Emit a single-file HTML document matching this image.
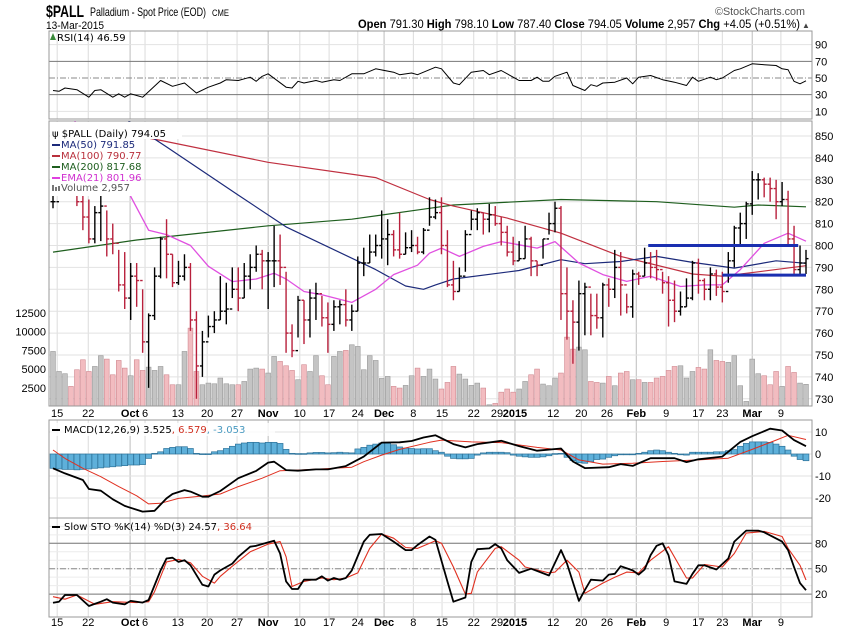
<!DOCTYPE html>
<html><head><meta charset="utf-8">
<style>
html,body{margin:0;padding:0;background:#fff;}
svg{display:block;font-family:"Liberation Sans",Arial,sans-serif;}
.ax{font-size:11px;fill:#000;}
.lg{font-family:"DejaVu Sans",sans-serif;font-size:10px;}
</style></head>
<body>
<svg id="chart" width="850" height="633" viewBox="0 0 850 633" xmlns="http://www.w3.org/2000/svg">
<rect x="0" y="0" width="850" height="633" fill="#fff"/>
<g>
<text x="46" y="17" font-size="17" font-weight="bold" textLength="38" lengthAdjust="spacingAndGlyphs">$PALL</text>
<text x="90" y="16" font-size="12" textLength="116" lengthAdjust="spacingAndGlyphs">Palladium - Spot Price (EOD)</text>
<text x="212" y="16" font-size="9" textLength="17" lengthAdjust="spacingAndGlyphs">CME</text>
<text x="46" y="29" font-size="11" textLength="58" lengthAdjust="spacingAndGlyphs">13-Mar-2015</text>
<text x="715" y="15" font-size="11" fill="#555" textLength="90" lengthAdjust="spacingAndGlyphs">©StockCharts.com</text>
<text x="358" y="28" font-size="11.5" textLength="442" lengthAdjust="spacingAndGlyphs"><tspan font-weight="bold">Open</tspan> 791.30  <tspan font-weight="bold">High</tspan> 798.10  <tspan font-weight="bold">Low</tspan> 787.40  <tspan font-weight="bold">Close</tspan> 794.05  <tspan font-weight="bold">Volume</tspan> 2,957  <tspan font-weight="bold">Chg</tspan> +4.05 (+0.51%)</text>
<text x="802" y="28" font-size="8" fill="#444">▲</text>
</g>
<defs>
<clipPath id="clipMain"><rect x="49" y="121" width="763" height="285"/></clipPath>
<clipPath id="clipMacd"><rect x="49" y="420" width="763" height="98"/></clipPath>
</defs>
<g id="grid"></g>
<g id="plots"></g>
<g id="frames">
<rect x="49" y="31" width="763" height="88" fill="none" stroke="#999"/>
<rect x="49" y="121" width="763" height="285" fill="none" stroke="#999"/>
<rect x="49" y="420" width="763" height="98" fill="none" stroke="#999"/>
<rect x="49" y="518" width="763" height="99" fill="none" stroke="#999"/>
</g>
<g id="legends">
<path d="M50 40 L53 33 L56 40 Z" fill="#3a8a3a"/>
<text class="lg" x="57" y="41">RSI(14) 46.59</text>
<rect x="50" y="122" width="132" height="17" fill="#fff"/>
<rect x="50" y="139" width="84" height="57" fill="#fff"/>
<text class="lg" x="52" y="137">ψ $PALL (Daily) 794.05</text>
<line x1="52" y1="145" x2="60" y2="145" stroke="#1c2a7a" stroke-width="2"/>
<text class="lg" x="61" y="148" fill="#1c2a7a">MA(50) 791.85</text>
<line x1="52" y1="156" x2="60" y2="156" stroke="#b8303c" stroke-width="2"/>
<text class="lg" x="61" y="159" fill="#b8303c">MA(100) 790.77</text>
<line x1="52" y1="167" x2="60" y2="167" stroke="#1e5e1e" stroke-width="2"/>
<text class="lg" x="61" y="170" fill="#1e5e1e">MA(200) 817.68</text>
<line x1="52" y1="178" x2="60" y2="178" stroke="#e040e0" stroke-width="2"/>
<text class="lg" x="61" y="181" fill="#d030d0">EMA(21) 801.96</text>
<rect x="52" y="185" width="2" height="6" fill="#777"/><rect x="55" y="187" width="2" height="4" fill="#777"/><rect x="58" y="186" width="2" height="5" fill="#777"/>
<text class="lg" x="61" y="191" fill="#555">Volume 2,957</text>
<rect x="50" y="423" width="225" height="13" fill="#fff" opacity="0.8"/>
<line x1="52" y1="430" x2="60" y2="430" stroke="#000" stroke-width="2"/>
<text class="lg" x="64" y="433">MACD(12,26,9) 3.525<tspan fill="#d03020">, 6.579</tspan><tspan fill="#4a9ac0">, -3.053</tspan></text>
<line x1="52" y1="527" x2="60" y2="527" stroke="#000" stroke-width="2"/>
<text class="lg" x="64" y="530">Slow STO %K(14) %D(3) 24.57<tspan fill="#d03020">, 36.64</tspan></text>
</g>
<g id="axes"></g>
</svg>
<script>
// ---------- data ----------
const highs = [823,828,829,827,825,824,821,818,823,816,810,798,797,792,792,780,769,790,804,812,796,793,796,792,770,761,768,770,786,783,790,790,792,796,800,798,797,809,805,788,764,777,775,780,783,777,774,775,775,780,773,795,799,805,805,816,812,807,815,806,807,804,808,822,821,822,807,793,790,807,816,817,815,819,818,813,809,804,802,809,804,793,803,815,820,818,790,775,784,783,778,778,783,785,798,797,778,789,788,799,797,798,788,786,784,779,785,793,794,785,790,789,788,797,809,815,820,834,833,831,831,830,829,825,809,800,798];
const lows = [817,823,824,823,818,807,801,801,802,795,796,779,771,766,772,751,735,766,785,785,781,782,784,761,730,740,758,760,766,764,776,770,776,780,788,780,771,781,782,751,749,758,755,758,766,763,751,761,764,763,761,770,786,792,795,794,791,795,794,796,797,796,796,809,812,796,781,775,779,788,807,807,805,806,809,800,795,791,793,794,786,786,794,805,806,766,757,746,752,759,759,762,758,772,776,768,769,767,782,786,785,784,778,763,765,768,772,775,778,775,775,777,774,783,790,800,803,814,821,822,820,812,818,800,787,787,787];
const closes = [820,825,826,825,820,813,803,815,818,803,801,782,776,786,784,756,768,786,803,796,783,786,790,766,745,756,763,766,770,771,780,776,786,790,796,793,793,793,790,760,752,775,766,776,778,767,764,772,773,766,770,792,792,797,800,803,805,798,796,799,800,797,807,813,815,800,782,779,786,805,812,815,812,814,810,806,797,793,794,803,793,791,803,810,817,778,770,765,778,781,768,767,782,780,790,782,772,787,786,792,790,789,783,775,770,772,776,792,784,780,787,781,779,793,808,810,819,830,830,828,826,820,821,803,789,792,794];
const volumes = [7340,4670,4370,2680,4900,6230,4670,5340,6770,6320,4230,6140,5120,4100,6230,4810,5250,4810,5340,4230,2900,2900,7340,10450,4670,2900,3120,3030,3790,3030,2900,2900,3340,4990,5120,4990,4460,6680,6010,5430,4810,3570,5570,4670,6770,4100,2900,6680,7340,7480,8230,8010,4900,6770,6140,3740,4010,2680,2460,2810,4100,5120,4010,4990,3660,2330,3210,5340,4320,3660,2810,3120,2460,230,410,1910,2330,1910,2330,3340,4230,4990,2990,2770,3790,4460,9250,7650,7920,7560,3340,3210,3120,4010,2770,4460,4670,3570,3570,3210,3210,3790,4010,4810,5340,5430,3790,4670,5210,4990,7560,6140,6010,5880,6770,2770,680,6320,4370,4100,2900,4670,2680,5340,4540,3120,2957];
const ma50Idx = [0,10,14,19,25,31,39,54,59,62,64,67,78,85,89,95,101,107,114,121,126];
const ma50Val = [880,862,854,845,834,823,808.5,789,781.5,780,782,784.7,788.6,793.5,791.7,792.7,795,792.3,789.7,793,791.85];
const ma100Idx = [0,14,18,36,54,63,67,76,85,95,107,112,118,126];
const ma100Val = [856,850,848,838,831,821,818,812.5,805.6,795,787,786,788,790.77];
const ma200Idx = [0,14,36,50,63,67,85,101,114,118,126];
const ma200Val = [797,802.5,809,812,817,818.5,821,820,817.5,818.5,817.68];
const emaIdx = [3,5,8,12,16,19,23,26,30,34,37,39,42,45,50,54,57,61,63,65,68,72,75,78,81,84,88,92,96,100,105,109,112,115,119,123,126];
const emaVal = [860,850,840,827.6,807,805,800,790.5,783.5,784.7,787.3,784.7,779,777.5,774,780,786.7,791,796.5,798.8,795,799.6,801.8,800.3,798.8,801.8,792,786.7,783.6,786,781.3,782,782,789,801,805.6,801.96];
const resistanceLevel = [800];
const resistanceSpan = [99.6,124.7];
const supportLevel = [786.5];
const supportSpan = [112,126];
const rsiIdx = [0,1,2,4,6,7,8,10,11,12,13,14,15,18,20,22,24,26,28,29,31,33,34,35,36,39,40,41,42,44,45,47,48,50,52,54,57,58,60,61,63,64,65,67,68,70,72,73,75,77,78,80,81,82,83,84,86,87,89,90,91,92,94,96,97,98,100,102,104,106,107,108,110,111,112,114,115,117,119,121,122,123,124,125,126];
const rsiVal = [35,34,38,36,27,35,36,27,31,27,31,29,27,47,40,44,32,39,44,48,47,51,46,52,55,39,38,46,44,47,45,48,47,55,55,61,57,54,56,54,60,63,61,44,42,57,59,54,59,51,47,47,51,46,46,52,57,41,35,42,40,44,45,50,43,51,53,48,45,41,51,46,51,48,50,59,61,67,66,65,61,60,46,43,46.59];
const macdIdx = [0,2,5,6,8,10,12,15,17,19,20,22,23,25,26,28,31,34,36,37,39,41,44,46,49,52,55,58,60,62,64,67,69,71,75,78,81,85,87,89,93,95,97,100,104,106,108,112,115,117,120,122,124,126];
const macdVal = [-6.5,-8.8,-11.8,-15.9,-16.7,-20.6,-23.6,-26.2,-25.8,-20.2,-18.2,-16.4,-17.1,-19.4,-19.4,-16.8,-11,-7.7,-3.9,-3.5,-7.3,-7.6,-7,-7,-5.5,-1.2,5.2,5.3,5.9,7.5,8.5,4.5,3,4.5,6,3.6,1.5,2.5,-3.4,-6.4,-6,-4.6,-5.4,-1.9,-1.9,-3.7,-2.4,-1.2,5.5,8.1,11.5,10.7,6.3,3.525];
const signalIdx = [0,2,5,8,11,14,16,18,21,25,28,31,35,38,41,47,50,52,55,58,63,65,70,75,81,85,88,92,97,102,108,113,117,121,123,126];
const signalVal = [1.8,-2,-6.5,-10.3,-14.8,-19,-22.7,-22.4,-20.2,-19.1,-18.2,-14.8,-11,-7.6,-7.3,-6.5,-6,-3.5,-0.5,2.1,5.3,6.3,5.5,5.2,3,1.8,-2.7,-4.6,-4.2,-3.4,-2.7,-1.9,2.1,6.3,8.5,6.579];
const histVal = [-6.5,-6.8,-7,-7,-7.2,-7,-6.8,-6.5,-6.3,-6,-5.8,-5.5,-5.3,-5,-5,-4.8,-2,0.3,1,2.5,3,3.3,3.3,2.5,0.3,0.1,0.1,1,1.5,2.5,3.5,4.5,5,5.3,5.3,5,5.3,5.3,4.8,2.1,0.3,0.2,0.2,0.5,0.7,0.7,0.5,0.6,0.8,0.6,0.5,2.3,3,4,4.5,5,5,4.2,3.2,2.7,2.5,2.3,2.4,2.4,1.5,0.8,-1,-2,-2.2,-2.2,-2,-0.5,0.5,0.8,0.8,0.8,0.6,-0.5,-1,-1.3,-1.5,-1.5,-1.3,-0.8,0.2,0.3,-1.5,-3,-4,-4.2,-3.5,-2.5,-2.3,-1.5,-0.8,-0.3,-0.2,0,0.3,0.8,1.5,1.8,1.5,0.8,0.3,-0.3,-0.5,0.8,0.8,0.8,0.8,1,1,1.5,2,3.5,4.8,5.5,5.5,5.5,5.3,4.5,3.5,1.8,-1,-2.5,-3.053];
const stoKIdx = [0,1,2,4,6,8,9,10,12,13,15,16,18,19,20,21,22,23,25,26,27,28,30,31,33,34,36,37,38,39,40,41,42,44,45,46,47,48,49,50,52,53,55,57,59,60,61,63,64,66,67,69,70,71,73,74,75,76,78,80,83,85,86,88,89,90,92,93,94,95,97,98,99,100,101,102,103,104,106,107,108,109,111,113,114,116,118,119,122,123,124,125,126];
const stoKVal = [9.7,11,19,19,6,11,14,10,8,12,10,13,48,62,63,58,60,54,31,29,43,48,56,64,76,77,81,83,68,35,26,26,37,37,41,36,39,37,39,48,82,90,91,82,72,72,78,88,84,35,11,16,58,73,74,79,74,60,45,50,42,72,56,12,25,37,36,43,44,53,48,43,49,66,77,80,66,35,32,44,54,54,49,62,82,95,95,93,82,72,52,33,24.57];
const stoDIdx = [0,2,4,7,10,14,16,17,19,21,23,25,27,28,30,33,36,38,39,40,42,45,47,49,51,53,55,57,59,61,64,65,67,69,70,71,74,75,78,79,83,84,86,88,89,92,94,96,98,100,103,106,107,109,112,114,116,119,122,123,125,126];
const stoDVal = [17,14,19,8,11,10,11,23,58,61,57,41,33,41,53,70,79,82,64,29,35,39,37,39,45,74,91,86,75,74,83,80,52,20,21,46,74,76,60,52,45,46,60,46,21,33,40,46,45,60,76,39,39,55,52,68,92,94,88,74,54,36.64];
const priceTicks = [850,840,830,820,810,800,790,780,770,760,750,740,730];
const volTicks = [12500,10000,7500,5000,2500];
const rsiTicks = [90,70,50,30,10];
const macdTicks = [10,0,-10,-20];
const stoTicks = [80,50,20];
const dateLabels = ['15','22','Oct','6','13','20','27','Nov','10','17','24','Dec','8','15','22','29','2015','12','20','26','Feb','9','17','23','Mar','9'];
const dateIdx = [0.7,5.9,12.9,15.4,20.9,25.8,30.8,36,41.3,46.2,51,55.4,60.3,65.1,70.4,74.3,77.3,83.7,88.4,92.7,97.6,102.6,108,112,117,121.8];
const dateBold = [0,0,1,0,0,0,0,1,0,0,0,1,0,0,0,0,1,0,0,0,1,0,0,0,1,0];

// ---------- scales ----------
const X0 = 53, STEP = (806 - 53) / 126;
function xOf(i){ return X0 + i * STEP; }
function yPrice(p){ return 136 + (850 - p) * 2.19; }
function yVol(v){ return 406.5 - v * 18.75 / 2500; }
function yRsi(v){ return 78 - (v - 50) * 0.833; }
function yMacd(v){ return 454 - v * 2.2; }
function ySto(v){ return 568.7 - (v - 50) * 0.847; }

const NS = 'http://www.w3.org/2000/svg';
function mk(tag, attrs, parent){
  const e = document.createElementNS(NS, tag);
  for (const k in attrs) e.setAttribute(k, attrs[k]);
  parent.appendChild(e);
  return e;
}
const grid = document.getElementById('grid');
const plots = document.getElementById('plots');
const axes = document.getElementById('axes');

// ---------- grid ----------
const panels = [[31,119],[121,406],[420,518],[518,617]];
for (let k = 0; k < dateIdx.length; k++) {
  const x = xOf(dateIdx[k]);
  for (const p of panels) {
    const gl = mk('line', {x1:x, x2:x, y1:p[0], y2:p[1], stroke: dateBold[k] ? '#bdbdbd' : '#dcdcdc', 'stroke-width':1}, grid);
    
    
  }
  for (const yy of [417, 626]) {
    const t = mk('text', {x:x, y:yy, 'text-anchor':'middle', class:'ax', 'font-weight': dateBold[k] ? 'bold' : 'normal'}, axes);
    t.textContent = dateLabels[k];
    
    
  }
}
for (const p of priceTicks) {
  const y = yPrice(p);
  const gl = mk('line', {x1:49, x2:812, y1:y, y2:y, stroke:'#e2e2e2'}, grid);
  
  
  const t = mk('text', {x:815, y:y+4, class:'ax'}, axes);
  t.textContent = p;
  
  
}
for (const v of volTicks) {
  const t = mk('text', {x:46, y:yVol(v)+4, class:'ax', 'text-anchor':'end'}, axes);
  t.textContent = v;
  
  
}
for (const v of rsiTicks) {
  const y = yRsi(v);
  const strong = (v === 70 || v === 30);
  const gl = mk('line', {x1:49, x2:812, y1:y, y2:y, stroke: strong ? '#777' : (v === 50 ? '#888' : '#e2e2e2'), 'stroke-dasharray': v === 50 ? '6,2,1,2' : 'none'}, grid);
  
  
  const t = mk('text', {x:815, y:y+4, class:'ax'}, axes);
  t.textContent = v;
  
  
}
for (const v of macdTicks) {
  const y = yMacd(v);
  const gl = mk('line', {x1:49, x2:812, y1:y, y2:y, stroke:'#e2e2e2'}, grid);
  
  
  const t = mk('text', {x:815, y:y+4, class:'ax'}, axes);
  t.textContent = v;
  
  
}
for (let v = 10; v <= 100; v += 10) {
  const y = ySto(v);
  const gl = mk('line', {x1:49, x2:812, y1:y, y2:y, stroke:'#ececec'}, grid);
  
  
}
for (const v of stoTicks) {
  const y = ySto(v);
  const gl = mk('line', {x1:49, x2:812, y1:y, y2:y, stroke: v === 50 ? '#888' : '#777', 'stroke-dasharray': v === 50 ? '6,2,1,2' : 'none'}, grid);
  
  
  const t = mk('text', {x:815, y:y+4, class:'ax'}, axes);
  t.textContent = v;
  
  
}

// ---------- helpers ----------
function polyline(idx, vals, yf, color, width, name, parent){
  const pts = idx.map((i, k) => xOf(i).toFixed(1) + ',' + yf(vals[k]).toFixed(1)).join(' ');
  const pl = mk('polyline', {points: pts, fill:'none', stroke:color, 'stroke-width':width, 'stroke-linejoin':'round'}, parent);
  
  
  return pl;
}

// ---------- main price panel ----------
const mainG = mk('g', {'clip-path':'url(#clipMain)'}, plots);


for (let i = 0; i < volumes.length; i++) {
  const down = i > 0 && closes[i] < closes[i-1];
  const y = yVol(volumes[i]);
  const vb = mk('rect', {x: xOf(i) - 2.4, y: y, width: 4.8, height: Math.max(0, 406.5 - y), fill: down ? '#f2bcc0' : '#c4c4c4', stroke: down ? '#d08890' : '#999', 'stroke-width':0.6}, mainG);
  
  
}
polyline(ma200Idx, ma200Val, yPrice, '#1e5e1e', 1.2, 'ma200-line', mainG);
polyline(ma100Idx, ma100Val, yPrice, '#c03040', 1.2, 'ma100-line', mainG);
polyline(ma50Idx, ma50Val, yPrice, '#1c2a7a', 1.2, 'ma50-line', mainG);
polyline(emaIdx, emaVal, yPrice, '#e050e0', 1.3, 'ema21-line', mainG);
for (let i = 0; i < closes.length; i++) {
  const down = i > 0 && closes[i] < closes[i-1];
  const col = down ? '#b8203c' : '#000';
  const x = xOf(i);
  const open = i > 0 ? closes[i-1] : closes[i];
  const g = mk('g', {stroke: col, 'stroke-width': 1.4}, mainG);
  
  
  mk('line', {x1:x, x2:x, y1:yPrice(highs[i]), y2:yPrice(lows[i])}, g);
  mk('line', {x1:x-2.5, x2:x, y1:yPrice(open), y2:yPrice(open)}, g);
  mk('line', {x1:x, x2:x+2.5, y1:yPrice(closes[i]), y2:yPrice(closes[i])}, g);
}
const rl = mk('line', {x1:xOf(resistanceSpan[0]), x2:xOf(resistanceSpan[1]), y1:yPrice(resistanceLevel[0]), y2:yPrice(resistanceLevel[0]), stroke:'#1a2fb0', 'stroke-width':3}, mainG);


const sl = mk('line', {x1:xOf(supportSpan[0]), x2:xOf(supportSpan[1]), y1:yPrice(supportLevel[0]), y2:yPrice(supportLevel[0]), stroke:'#1a2fb0', 'stroke-width':3}, mainG);



// ---------- RSI ----------
polyline(rsiIdx, rsiVal, yRsi, '#000', 1, 'rsi-line', plots);

// ---------- MACD ----------
const macdG = mk('g', {'clip-path':'url(#clipMacd)'}, plots);


for (let i = 0; i < histVal.length; i++) {
  const y0 = yMacd(0), y1 = yMacd(histVal[i]);
  const hb = mk('rect', {x: xOf(i) - 2.9, y: Math.min(y0, y1), width: 5.8, height: Math.max(0.8, Math.abs(y1 - y0)), fill:'#5eb0da', stroke:'#2d7299', 'stroke-width':0.7}, macdG);
  
  
}
polyline(signalIdx, signalVal, yMacd, '#e03020', 1, 'macd-signal-line', macdG);
polyline(macdIdx, macdVal, yMacd, '#000', 1.8, 'macd-line', macdG);

// ---------- Stochastic ----------
polyline(stoDIdx, stoDVal, ySto, '#e03020', 1.1, 'sto-d-line', plots);
polyline(stoKIdx, stoKVal, ySto, '#000', 1.8, 'sto-k-line', plots);

// legend drawn above plot marks
document.getElementById('chart').appendChild(document.getElementById('legends'));
</script>
</body></html>
